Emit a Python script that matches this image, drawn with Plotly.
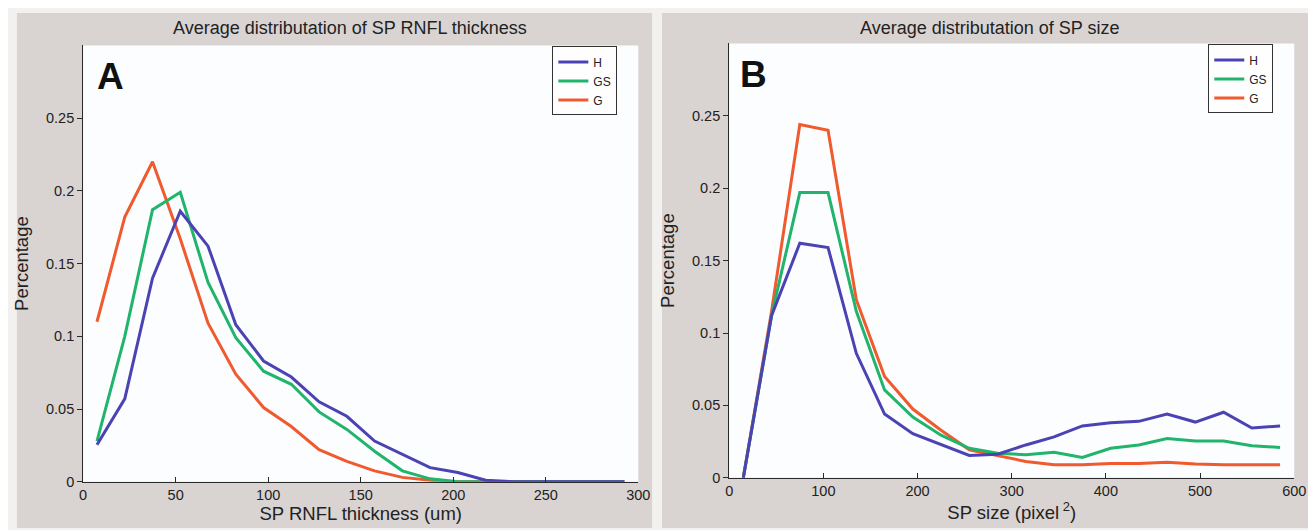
import plotly.graph_objects as go

# ---------------- data ----------------
series_names = ["H", "GS", "G"]
colors = {"H": "#4b43b4", "GS": "#20b46c", "G": "#f05a2e"}

# Panel A: SP RNFL thickness (um)
thick_x = [7.5, 22.5, 37.5, 52.5, 67.5, 82.5, 97.5, 112.5, 127.5, 142.5,
           157.5, 172.5, 187.5, 202.5, 217.5, 232.5, 247.5, 262.5, 277.5, 292.5]
thick_H = [0.0255, 0.057, 0.140, 0.186, 0.162, 0.108, 0.083, 0.072, 0.055, 0.045,
           0.028, 0.019, 0.0097, 0.0063, 0.001, 0.0, 0.0, 0.0, 0.0, 0.0]
thick_GS = [0.028, 0.100, 0.187, 0.199, 0.137, 0.099, 0.076, 0.067, 0.048, 0.036,
            0.021, 0.0075, 0.002, 0.0, 0.0, 0.0, 0.0, 0.0, 0.0, 0.0]
thick_G = [0.110, 0.182, 0.220, 0.167, 0.109, 0.074, 0.051, 0.038, 0.022, 0.014,
           0.0075, 0.003, 0.001, 0.0, 0.0, 0.0, 0.0, 0.0, 0.0, 0.0]

# Panel B: SP size (pixel^2)
size_x = [15, 45, 75, 105, 135, 165, 195, 225, 255, 285,
          315, 345, 375, 405, 435, 465, 495, 525, 555, 585]
size_H = [0.0, 0.112, 0.162, 0.159, 0.086, 0.044, 0.0305, 0.0227, 0.0154, 0.0163,
          0.0227, 0.0283, 0.0358, 0.038, 0.039, 0.044, 0.0385, 0.0453, 0.0344, 0.0358]
size_GS = [0.0, 0.112, 0.197, 0.197, 0.115, 0.0607, 0.042, 0.0294, 0.0204, 0.017,
           0.0159, 0.0177, 0.014, 0.0204, 0.0227, 0.0271, 0.0254, 0.0254, 0.0222, 0.021]
size_G = [0.0, 0.115, 0.244, 0.240, 0.123, 0.070, 0.0475, 0.0328, 0.0193, 0.0154,
          0.0113, 0.009, 0.009, 0.0098, 0.0098, 0.0107, 0.0095, 0.009, 0.009, 0.009]

thick_ticks = [0, 50, 100, 150, 200, 250, 300]
size_ticks = [0, 100, 200, 300, 400, 500, 600]
y_ticks = [0, 0.05, 0.1, 0.15, 0.2, 0.25]
y_ticklabels = ["0", "0.05", "0.1", "0.15", "0.2", "0.25"]

titles = ["Average distributation of SP RNFL thickness", "Average distributation of SP size"]
xtitles = ["SP RNFL thickness (um)", "SP size (pixel<sup> 2</sup>)"]
panel_labels = ["A", "B"]

# ---------------- figure ----------------
W, H = 1316, 530
FONT = "Liberation Sans, Arial, Helvetica, sans-serif"
fig = go.Figure()

data_a = {"H": thick_H, "GS": thick_GS, "G": thick_G}
data_b = {"H": size_H, "GS": size_GS, "G": size_G}

# draw G first, H on top; legend reversed so order is H, GS, G
for name in ["G", "GS", "H"]:
    fig.add_trace(go.Scatter(x=thick_x, y=data_a[name], mode="lines", name=name,
                             line=dict(color=colors[name], width=3),
                             xaxis="x", yaxis="y", legend="legend"))
for name in ["G", "GS", "H"]:
    fig.add_trace(go.Scatter(x=size_x, y=data_b[name], mode="lines", name=name,
                             line=dict(color=colors[name], width=3),
                             xaxis="x2", yaxis="y2", legend="legend2"))

def px(x):
    return x / W

def py(y):
    return (H - y) / H

TICKFONT = dict(family=FONT, size=14.5, color="#222")
axis_common = dict(showgrid=False, zeroline=False, showline=True, linecolor="#2a2a2a",
                   linewidth=1, tickcolor="#2a2a2a", ticklen=5, tickwidth=1,
                   tickfont=TICKFONT, mirror=False)
TITLEFONT = dict(family=FONT, size=18.5, color="#222")

# plot areas (pixels)
A_L, A_R, A_T, A_B = 72, 634, 38, 481
B_L, B_R, B_T, B_B = 726, 1298, 36, 477

fig.update_layout(
    width=W, height=H,
    margin=dict(l=0, r=0, t=0, b=0),
    paper_bgcolor="#f3f1f0",
    plot_bgcolor="#fcfdfe",
    font=dict(family=FONT, color="#222"),
    xaxis=dict(domain=[px(A_L), px(A_R)], range=[0, 300], tickvals=thick_ticks,
               ticks="inside", anchor="y",
               title=dict(text=xtitles[0], font=TITLEFONT, standoff=4),
               **axis_common),
    yaxis=dict(domain=[py(A_B), py(A_T)], range=[0, 0.3], tickvals=y_ticks, ticktext=y_ticklabels,
               ticks="outside", anchor="x",
               title=dict(text="Percentage", font=TITLEFONT, standoff=12),
               **axis_common),
    xaxis2=dict(domain=[px(B_L), px(B_R)], range=[0, 600], tickvals=size_ticks,
                ticks="inside", anchor="y2",
                title=dict(text=xtitles[1], font=TITLEFONT, standoff=4),
                **axis_common),
    yaxis2=dict(domain=[py(B_B), py(B_T)], range=[0, 0.3], tickvals=y_ticks, ticktext=y_ticklabels,
                ticks="outside", anchor="x2",
                title=dict(text="Percentage", font=TITLEFONT, standoff=12),
                **axis_common),
    legend=dict(x=px(547), y=py(39), xanchor="left", yanchor="top", traceorder="reversed",
                bgcolor="#fefefe", bordercolor="#333", borderwidth=1,
                font=dict(family=FONT, size=12, color="#222"),
                itemwidth=30, tracegroupgap=0),
    legend2=dict(x=px(1211), y=py(37), xanchor="left", yanchor="top", traceorder="reversed",
                 bgcolor="#fefefe", bordercolor="#333", borderwidth=1,
                 font=dict(family=FONT, size=12, color="#222"),
                 itemwidth=30, tracegroupgap=0),
    showlegend=True,
)

# gray panel backgrounds
for x0, x1 in [(5, 648), (658, 1313)]:
    fig.add_shape(type="rect", xref="paper", yref="paper", layer="below",
                  x0=px(x0), x1=px(x1), y0=py(528), y1=py(5),
                  fillcolor="#d9d4d2", line=dict(width=0))
# white plot areas
for l, r, t, b in [(A_L, A_R, A_T, A_B), (B_L, B_R, B_T, B_B)]:
    fig.add_shape(type="rect", xref="paper", yref="paper", layer="below",
                  x0=px(l), x1=px(r), y0=py(b), y1=py(t),
                  fillcolor="#fcfdfe", line=dict(width=0))

# titles
for text, cx in zip(titles, [342, 990]):
    fig.add_annotation(text=text, xref="paper", yref="paper", x=px(cx), y=py(20),
                       showarrow=False, xanchor="center", yanchor="middle",
                       font=dict(family=FONT, size=18, color="#222"))

# panel labels
for text, cx, cy in zip(panel_labels, [100, 751], [70, 68]):
    fig.add_annotation(text="<b>%s</b>" % text, xref="paper", yref="paper", x=px(cx), y=py(cy),
                       showarrow=False, xanchor="center", yanchor="middle",
                       font=dict(family=FONT, size=37, color="#111"))

fig.write_html("out.html")
